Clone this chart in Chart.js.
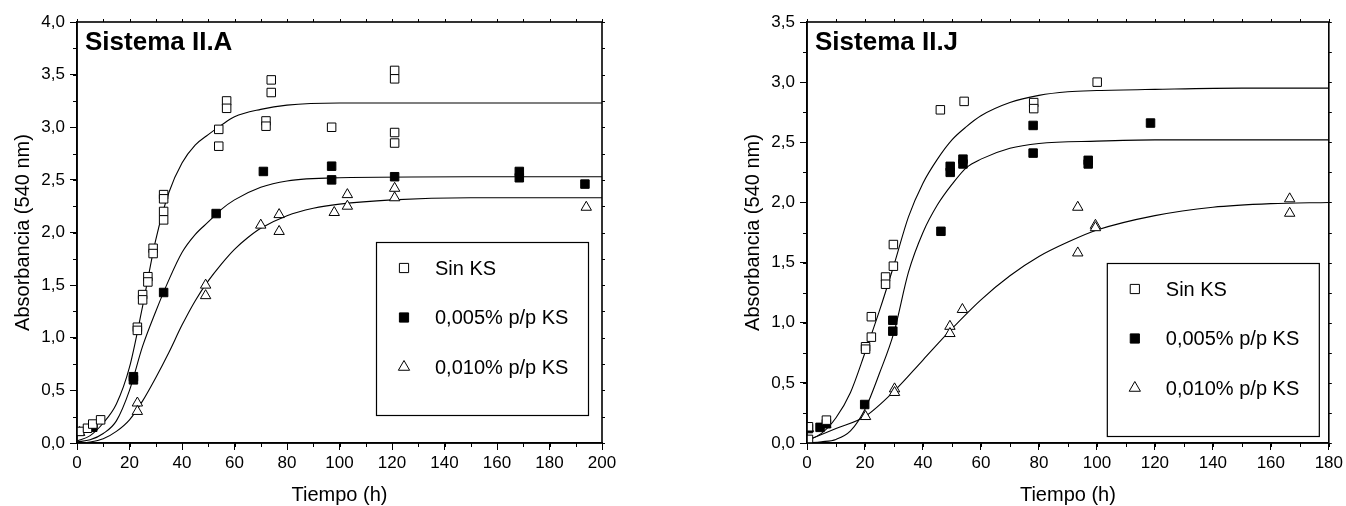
<!DOCTYPE html>
<html><head><meta charset="utf-8">
<script src="https://cdn.jsdelivr.net/npm/chart.js@4.4.0/dist/chart.umd.min.js"></script>
<style>
html,body{margin:0;padding:0;background:#fff;}
#wrap{position:relative;width:1346px;height:506px;background:#fff;}
.c{position:absolute;top:0;width:673px;height:506px;}
</style></head><body>
<div id="wrap">
<div class="c" style="left:0"><canvas id="chartA" width="673" height="506"></canvas></div>
<div class="c" style="left:673px"><canvas id="chartB" width="673" height="506"></canvas></div>
</div>
<script>
// ---------- shared labels ----------
const seriesNames = ['Sin KS', '0,005% p/p KS', '0,010% p/p KS'];
const xAxisTitle = 'Tiempo (h)';
const yAxisTitle = 'Absorbancia (540 nm)';

// ---------- Sistema II.A ----------
const titleA = 'Sistema II.A';
const xTickLabelsA = ['0','20','40','60','80','100','120','140','160','180','200'];
const yTickLabelsA = ['0,0','0,5','1,0','1,5','2,0','2,5','3,0','3,5','4,0'];

const sinKS_A_x = [1, 4, 6, 9, 23, 23, 25, 25, 27, 27, 29, 29, 33, 33, 33, 33, 54, 54, 57, 57, 72, 72, 74, 74, 97, 121, 121, 121, 121];
const sinKS_A_y = [0.11, 0.14, 0.18, 0.22, 1.10, 1.07, 1.41, 1.36, 1.58, 1.53, 1.85, 1.80, 2.36, 2.32, 2.20, 2.12, 2.98, 2.82, 3.25, 3.18, 3.06, 3.01, 3.45, 3.33, 3.00, 3.54, 3.46, 2.95, 2.85];

const ks005_A_x = [6, 6, 21.5, 21.5, 33, 53, 71, 97, 97, 121, 168.5, 168.5, 193.5];
const ks005_A_y = [0.15, 0.17, 0.63, 0.60, 1.43, 2.18, 2.58, 2.63, 2.50, 2.53, 2.58, 2.52, 2.46];

const ks010_A_x = [1, 23, 23, 49, 49, 70, 77, 77, 98, 103, 103, 121, 121, 194];
const ks010_A_y = [0.10, 0.38, 0.30, 1.50, 1.40, 2.07, 2.17, 2.01, 2.19, 2.36, 2.25, 2.42, 2.33, 2.24];

const fitSin_A_x = [0, 5, 10, 15, 20, 25, 30, 35, 40, 45, 50, 55, 60, 70, 80, 100, 120, 150, 200];
const fitSin_A_y = [0.02, 0.07, 0.19, 0.37, 0.72, 1.30, 1.93, 2.38, 2.66, 2.83, 2.93, 3.02, 3.10, 3.17, 3.21, 3.23, 3.23, 3.23, 3.23];
const fit005_A_x = [0, 5, 10, 15, 20, 25, 30, 35, 40, 45, 50, 55, 60, 70, 80, 100, 150, 200];
const fit005_A_y = [0.01, 0.03, 0.09, 0.21, 0.50, 0.92, 1.25, 1.55, 1.81, 1.98, 2.10, 2.22, 2.31, 2.43, 2.49, 2.52, 2.53, 2.53];
const fit010_A_x = [0, 5, 10, 15, 20, 25, 30, 35, 40, 45, 50, 55, 60, 65, 70, 80, 90, 100, 120, 150, 200];
const fit010_A_y = [0.00, 0.01, 0.04, 0.11, 0.22, 0.40, 0.62, 0.86, 1.12, 1.35, 1.54, 1.70, 1.84, 1.95, 2.04, 2.16, 2.23, 2.27, 2.31, 2.33, 2.33];

// ---------- Sistema II.J ----------
const titleB = 'Sistema II.J';
const xTickLabelsB = ['0','20','40','60','80','100','120','140','160','180'];
const yTickLabelsB = ['0,0','0,5','1,0','1,5','2,0','2,5','3,0','3,5'];

const sinKS_B_x = [0.5, 0.5, 6.7, 20.2, 20.2, 22.2, 22.2, 27.1, 27.1, 29.8, 29.8, 46, 54.2, 78.2, 78.2, 100.1];
const sinKS_B_y = [0.135, 0.03, 0.19, 0.80, 0.78, 1.05, 0.88, 1.38, 1.32, 1.65, 1.47, 2.77, 2.84, 2.83, 2.78, 3.00];

const ks005_B_x = [0.5, 4.5, 6.7, 19.9, 29.6, 29.6, 46.2, 49.4, 49.4, 53.8, 53.8, 78, 78, 97, 97, 118.5];
const ks005_B_y = [0.12, 0.13, 0.16, 0.32, 1.02, 0.93, 1.76, 2.30, 2.25, 2.36, 2.32, 2.64, 2.41, 2.35, 2.32, 2.66];

const ks010_B_x = [0.5, 6.5, 20.2, 30.2, 30.2, 49.3, 49.3, 53.6, 93.4, 93.4, 99.5, 99.5, 166.5, 166.5];
const ks010_B_y = [0.12, 0.155, 0.22, 0.45, 0.42, 0.97, 0.91, 1.11, 1.96, 1.58, 1.81, 1.79, 2.03, 1.91];

const fitSin_B_x = [0, 5, 10, 15, 20, 25, 30, 35, 40, 45, 50, 55, 60, 70, 80, 90, 100, 120, 150, 180];
const fitSin_B_y = [0.02, 0.08, 0.21, 0.42, 0.75, 1.10, 1.48, 1.88, 2.16, 2.36, 2.52, 2.63, 2.72, 2.83, 2.89, 2.92, 2.93, 2.94, 2.95, 2.95];
const fit005_B_x = [0, 5, 10, 15, 20, 25, 30, 35, 40, 45, 50, 55, 60, 70, 80, 100, 120, 150, 180];
const fit005_B_y = [0.00, 0.01, 0.03, 0.10, 0.28, 0.58, 0.92, 1.42, 1.75, 1.98, 2.15, 2.29, 2.36, 2.45, 2.49, 2.51, 2.52, 2.52, 2.52];
const fit010_B_x = [0, 10, 20, 30, 40, 50, 60, 70, 80, 90, 100, 120, 140, 160, 180];
const fit010_B_y = [0.02, 0.12, 0.22, 0.43, 0.69, 0.95, 1.19, 1.39, 1.55, 1.67, 1.77, 1.89, 1.96, 1.99, 2.00];

// ---------- helpers ----------
const FONT = "'Liberation Sans', Arial, Helvetica, sans-serif";
const zip = (xs, ys) => xs.map((x, i) => ({x: x, y: ys[i]}));

const markerStyles = [
  {pointStyle: 'rect', backgroundColor: '#ffffff', borderColor: '#000000'},
  {pointStyle: 'rect', backgroundColor: '#000000', borderColor: '#000000'},
  {pointStyle: 'triangle', backgroundColor: '#ffffff', borderColor: '#000000'}
];
const PR = 6.0;

const framePlugin = {
  id: 'frame',
  afterDraw(chart, args, o) {
    const ctx = chart.ctx;
    const {left, right, top, bottom} = chart.chartArea;
    const xs = chart.scales.x, ys = chart.scales.y;
    ctx.save();
    ctx.strokeStyle = '#000';
    ctx.lineWidth = 1;
    ctx.beginPath();
    for (let v = xs.min; v <= xs.max + 1e-9; v += o.xMinor) {
      const px = Math.round(xs.getPixelForValue(v)) + 0.5;
      ctx.moveTo(px, bottom); ctx.lineTo(px, bottom + 4);
      ctx.moveTo(px, top); ctx.lineTo(px, top - 3);
    }
    for (let v = ys.min; v <= ys.max + 1e-9; v += o.yMinor) {
      const py = Math.round(ys.getPixelForValue(v)) + 0.5;
      ctx.moveTo(left, py); ctx.lineTo(left - 4, py);
      ctx.moveTo(right, py); ctx.lineTo(right + 3, py);
    }
    ctx.stroke();
    ctx.lineWidth = 1.6;
    ctx.strokeRect(left, top, right - left, bottom - top);

    // title inside plot
    ctx.fillStyle = '#000';
    ctx.font = "bold 26px " + FONT;
    ctx.textBaseline = 'middle';
    ctx.textAlign = 'left';
    ctx.fillText(o.title, left + 8, top + 21);

    // legend box
    const bw = 212, bh = 173;
    const bx = right - o.legRight - bw, by = bottom - o.legBottom - bh;
    ctx.lineWidth = 1.2;
    ctx.strokeStyle = '#000';
    ctx.strokeRect(bx + 0.5, by + 0.5, bw, bh);
    ctx.font = "20px " + FONT;
    const items = chart.data.datasets.filter(d => d.legendItem);
    items.forEach((d, i) => {
      const cy = by + 26 + i * 49.5;
      ctx.fillStyle = d.backgroundColor;
      ctx.strokeStyle = d.borderColor;
      ctx.lineWidth = 1;
      Chart.helpers.drawPoint(ctx, {pointStyle: d.pointStyle, radius: PR + 0.5, rotation: 0, borderWidth: 1}, bx + 28, cy);
      ctx.fillStyle = '#000';
      ctx.textBaseline = 'middle';
      ctx.fillText(d.label, bx + 59, cy + 1);
    });
    ctx.restore();
  }
};

function makeChart(id, cfg) {
  const datasets = [];
  cfg.points.forEach((p, i) => {
    datasets.push(Object.assign({
      label: seriesNames[i],
      legendItem: true,
      data: zip(p[0], p[1]),
      pointRadius: PR,
      pointHoverRadius: PR,
      pointBorderWidth: 1,
      showLine: false,
      order: 0
    }, markerStyles[i]));
  });
  cfg.fits.forEach((f, i) => {
    datasets.push({
      label: 'fit ' + seriesNames[i],
      data: zip(f[0], f[1]),
      showLine: true,
      borderColor: '#000',
      backgroundColor: '#000',
      borderWidth: 1.1,
      pointRadius: 0,
      cubicInterpolationMode: 'monotone',
      order: 1
    });
  });
  return new Chart(document.getElementById(id), {
    type: 'scatter',
    data: {datasets: datasets},
    plugins: [framePlugin],
    options: {
      responsive: false,
      animation: false,
      events: [],
      layout: {padding: {top: 22, right: cfg.padRight, left: cfg.padLeft, bottom: 0}},
      plugins: {
        legend: {display: false},
        tooltip: {enabled: false},
        frame: {xMinor: cfg.xStep / 2, yMinor: 0.25, title: cfg.title, legRight: cfg.legRight, legBottom: cfg.legBottom}
      },
      scales: {
        x: {
          type: 'linear', min: 0, max: cfg.xMax,
          afterFit: s => { s.height = 63; },
          ticks: {stepSize: cfg.xStep, color: '#000', font: {family: FONT, size: 17}, padding: 3, maxRotation: 0,
                  callback: (v, i) => cfg.xLabels[i]},
          grid: {drawOnChartArea: false, drawTicks: true, tickLength: 7, color: '#000', tickColor: '#000', tickWidth: 1},
          border: {display: true, color: '#000', width: 1.6},
          title: {display: true, text: xAxisTitle, color: '#000', font: {family: FONT, size: 20, lineHeight: 1.0}, padding: {top: 0, bottom: 1}}
        },
        y: {
          type: 'linear', min: 0, max: cfg.yMax,
          afterFit: s => { s.width = 77; },
          ticks: {stepSize: 0.5, color: '#000', font: {family: FONT, size: 17}, padding: 5,
                  callback: (v, i) => cfg.yLabels[i]},
          grid: {drawOnChartArea: false, drawTicks: true, tickLength: 7, color: '#000', tickColor: '#000', tickWidth: 1},
          border: {display: true, color: '#000', width: 1.6},
          title: {display: true, text: yAxisTitle, color: '#000', font: {family: FONT, size: 20, lineHeight: 1.2}, padding: {top: 11, bottom: 0}}
        }
      }
    }
  });
}

makeChart('chartA', {
  title: titleA, xMax: 200, yMax: 4, xStep: 20, xLabels: xTickLabelsA, yLabels: yTickLabelsA,
  padLeft: 0, padRight: 71, legRight: 14, legBottom: 28,
  points: [[sinKS_A_x, sinKS_A_y], [ks005_A_x, ks005_A_y], [ks010_A_x, ks010_A_y]],
  fits: [[fitSin_A_x, fitSin_A_y], [fit005_A_x, fit005_A_y], [fit010_A_x, fit010_A_y]]
});
makeChart('chartB', {
  title: titleB, xMax: 180, yMax: 3.5, xStep: 20, xLabels: xTickLabelsB, yLabels: yTickLabelsB,
  padLeft: 57, padRight: 14, legRight: 10, legBottom: 7,
  points: [[sinKS_B_x, sinKS_B_y], [ks005_B_x, ks005_B_y], [ks010_B_x, ks010_B_y]],
  fits: [[fitSin_B_x, fitSin_B_y], [fit005_B_x, fit005_B_y], [fit010_B_x, fit010_B_y]]
});
</script>
</body></html>
